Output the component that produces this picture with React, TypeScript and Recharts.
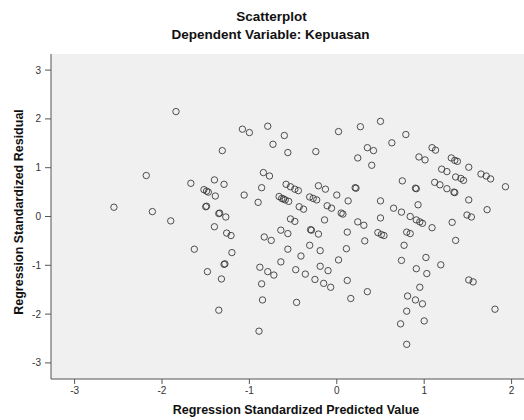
import { CartesianGrid, Scatter, ScatterChart, XAxis, YAxis } from "recharts";

// regression standardized predicted values
const predicted = [
  -1.84, -2.18, -1.67, -2.55, -2.11, -1.9, -1.63,
  -1.08, -1.0, -0.79, -0.6, -0.73, -1.31, -0.84, -0.77, -0.86, -1.4, -1.29, -1.52, -1.47, -1.49,
  -1.39, -1.06, -0.9, -0.66, -0.61, -1.5, -1.49, -1.35, -1.34, -1.27, -1.4, -1.26, -1.21, -0.83,
  -0.75, -0.64, -1.2, -1.29, -1.28, -1.48, -1.32, -0.88, -0.79, -0.72, -0.64, -0.86, -0.85, -1.35,
  -0.89,
  -0.56, 0.02, 0.27, -0.24, 0.35, 0.24, -0.58, -0.53, -0.48, -0.44, -0.21, -0.13, 0.21, 0.22, 0.0,
  0.13, -0.63, -0.59, -0.55, -0.31, -0.27, -0.23, -0.43, -0.38, -0.11, -0.06, 0.05, 0.07, -0.53,
  -0.48, -0.14, -0.56, -0.3, -0.29, -0.21, 0.24, 0.31, 0.12, 0.32, -0.56, -0.31, -0.19, 0.11, -0.41,
  0.02, -0.47, -0.36, -0.19, -0.1, -0.25, -0.15, -0.07, 0.12, 0.35, 0.16, -0.46,
  0.5, 0.79, 0.63, 0.42, 0.4, 1.09, 1.13, 0.94, 1.01, 1.2, 0.75, 0.9, 0.91, 1.12, 1.18, 0.5, 0.93,
  0.65, 0.74, 0.84, 0.91, 0.95, 0.98, 1.09, 0.5, 0.47, 0.51, 0.54, 0.8, 0.84, 0.77, 0.74, 1.02, 0.91,
  1.03, 1.19, 0.95, 0.81, 0.9, 0.98, 0.8, 1.0, 0.73, 0.8,
  1.26, 1.31, 1.35, 1.38, 1.51, 1.65, 1.71, 1.76, 1.93, 1.36, 1.42, 1.45, 1.26, 1.34, 1.35, 1.51,
  1.49, 1.54, 1.72, 1.32, 1.36, 1.51, 1.56, 1.81,
];

// regression standardized residuals, same order
const residual = [
  2.15, 0.84, 0.68, 0.19, 0.1, -0.09, -0.67,
  1.79, 1.72, 1.85, 1.66, 1.48, 1.35, 0.9, 0.83, 0.59, 0.75, 0.66, 0.55, 0.5, 0.52,
  0.42, 0.44, 0.29, 0.41, 0.36, 0.2, 0.21, 0.06, 0.07, -0.01, -0.21, -0.34, -0.39, -0.42,
  -0.49, -0.28, -0.74, -0.98, -0.97, -1.13, -1.28, -1.04, -1.13, -1.2, -0.93, -1.38, -1.71, -1.92,
  -2.35,
  1.31, 1.74, 1.84, 1.33, 1.41, 1.2, 0.66, 0.61, 0.56, 0.53, 0.63, 0.56, 0.59, 0.58, 0.44,
  0.32, 0.37, 0.34, 0.31, 0.4, 0.37, 0.34, 0.2, 0.15, 0.22, 0.17, 0.07, 0.05, -0.05,
  -0.1, -0.07, -0.35, -0.27, -0.28, -0.36, -0.11, -0.18, -0.32, -0.5, -0.67, -0.59, -0.7, -0.66, -0.81,
  -0.89, -1.09, -1.18, -1.02, -1.11, -1.29, -1.37, -1.45, -1.31, -1.54, -1.68, -1.76,
  1.95, 1.68, 1.51, 1.35, 1.05, 1.41, 1.36, 1.22, 1.16, 0.97, 0.73, 0.58, 0.57, 0.7, 0.65, 0.32, 0.24,
  0.17, 0.09, 0.0, -0.07, -0.11, -0.14, -0.23, -0.03, -0.33, -0.37, -0.39, -0.32, -0.35, -0.59, -0.9, -0.84, -1.07,
  -1.17, -0.99, -1.45, -1.63, -1.71, -1.79, -1.94, -2.14, -2.2, -2.62,
  0.92, 1.2, 1.15, 1.13, 1.01, 0.87, 0.83, 0.77, 0.61, 0.81, 0.78, 0.74, 0.57, 0.5, 0.49, 0.34,
  0.03, -0.01, 0.14, -0.12, -0.49, -1.3, -1.34, -1.9,
];

const xTicks = [-3, -2, -1, 0, 1, 2];
const yTicks = [-3, -2, -1, 0, 1, 2, 3];

const points = predicted.map((x, i) => ({ x, y: residual[i] }));

const font = "'Liberation Sans', Arial, sans-serif";
const tickStyle = { fontSize: 10, fill: "#333", fontFamily: font };

const Ring = (props: any) => (
  <circle
    cx={props.cx}
    cy={props.cy}
    r={3.2}
    fill="none"
    stroke="#333"
    strokeOpacity={0.85}
    strokeWidth={1}
  />
);

export default function App() {
  return (
    <div
      style={{
        position: "absolute",
        left: 0,
        top: 0,
        width: 524,
        height: 420,
        background: "#fff",
        fontFamily: font,
        overflow: "hidden",
      }}
    >
      <div
        style={{
          position: "absolute",
          left: 0,
          width: 543,
          top: 9,
          textAlign: "center",
          fontSize: 13.5,
          fontWeight: "bold",
          color: "#111",
        }}
      >
        Scatterplot
      </div>
      <div
        style={{
          position: "absolute",
          left: 0,
          width: 541,
          top: 27,
          textAlign: "center",
          fontSize: 13.5,
          fontWeight: "bold",
          color: "#111",
        }}
      >
        Dependent Variable: Kepuasan
      </div>
      <ScatterChart
        width={524}
        height={420}
        margin={{ top: 54, right: -2, bottom: 11, left: 0 }}
      >
        <CartesianGrid fill="#f0f0f0" horizontal={false} vertical={false} />
        <XAxis
          type="number"
          dataKey="x"
          domain={[-3.27, 2.165]}
          ticks={xTicks}
          allowDataOverflow
          height={30}
          tickSize={5}
          tickMargin={3}
          tick={tickStyle}
          axisLine={{ stroke: "#555" }}
          tickLine={{ stroke: "#555" }}
        />
        <XAxis
          xAxisId="top"
          orientation="top"
          type="number"
          domain={[-3.27, 2.165]}
          height={0}
          tick={false}
          tickLine={false}
          axisLine={{ stroke: "#666" }}
        />
        <YAxis
          type="number"
          dataKey="y"
          domain={[-3.33, 3.33]}
          ticks={yTicks}
          allowDataOverflow
          width={51}
          tickSize={6}
          tickMargin={4}
          tick={tickStyle}
          axisLine={{ stroke: "#555" }}
          tickLine={{ stroke: "#555" }}
        />
        <Scatter data={points} shape={Ring} isAnimationActive={false} />
      </ScatterChart>
      <div
        style={{
          position: "absolute",
          left: 0,
          width: 592,
          top: 403,
          textAlign: "center",
          fontSize: 12.5,
          fontWeight: "bold",
          color: "#111",
        }}
      >
        Regression Standardized Predicted Value
      </div>
      <div
        style={{
          position: "absolute",
          left: 19,
          top: 212,
          width: 0,
          height: 0,
        }}
      >
        <div
          style={{
            position: "absolute",
            left: 0,
            top: 0,
            transform: "translate(-50%, -50%) rotate(-90deg)",
            whiteSpace: "nowrap",
            fontSize: 12.5,
            fontWeight: "bold",
            color: "#111",
          }}
        >
          Regression Standardized Residual
        </div>
      </div>
    </div>
  );
}
